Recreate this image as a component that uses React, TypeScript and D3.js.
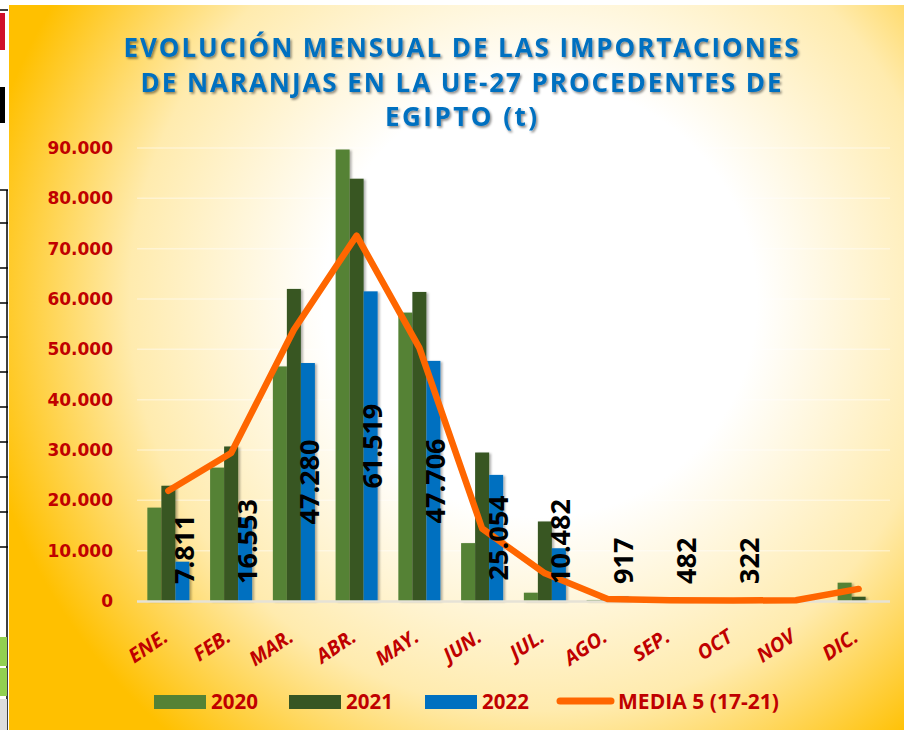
import React, { useEffect, useRef } from 'react';
import * as d3 from 'd3';

const months = ['ENE.', 'FEB.', 'MAR.', 'ABR.', 'MAY.', 'JUN.', 'JUL.', 'AGO.', 'SEP.', 'OCT', 'NOV', 'DIC.'];
const seriesNames = ['2020', '2021', '2022'];
const values2020 = [18550, 26500, 46600, 89700, 57300, 11500, 1650, 200, 0, 0, 0, 3640];
const values2021 = [22900, 30700, 62000, 83900, 61400, 29500, 15800, 600, 100, 50, 0, 850];
const values2022: (number | null)[] = [7811, 16553, 47280, 61519, 47706, 25054, 10482, 917, 482, 322, null, null];
const media5 = [21900, 29400, 53900, 72600, 50300, 14400, 5500, 400, 150, 100, 150, 2400];
const lineName = 'MEDIA 5 (17-21)';
const yTicks = [0, 10000, 20000, 30000, 40000, 50000, 60000, 70000, 80000, 90000];
const titleLines = [
  'EVOLUCIÓN MENSUAL DE LAS IMPORTACIONES',
  'DE NARANJAS EN LA UE-27 PROCEDENTES DE',
  'EGIPTO (t)',
];
const seriesColors = ['#548235', '#375623', '#0070C0'];
const lineColor = '#FF6600';
const labelRed = '#C00000';

const fmt = d3.formatLocale({ decimal: ',', thousands: '.', grouping: [3], currency: ['', '€'] }).format(',');

export default function App() {
  const ref = useRef<SVGSVGElement>(null);

  useEffect(() => {
    const svg = d3.select(ref.current);
    svg.selectAll('*').remove();
    const W = 904, H = 730;
    const defs = svg.append('defs');
    const grad = defs.append('radialGradient').attr('id', 'bg').attr('gradientUnits', 'userSpaceOnUse')
      .attr('cx', 540).attr('cy', 300).attr('r', 570);
    [[0, '#FFFFFF'], [0.38, '#FFFFFF'], [0.72, '#FFEBAE'], [1, '#FFC000']].forEach(([o, c]) =>
      grad.append('stop').attr('offset', o as number).attr('stop-color', c as string));
    const sh = defs.append('filter').attr('id', 'tshadow').attr('x', '-10%').attr('y', '-30%').attr('width', '120%').attr('height', '160%');
    sh.append('feDropShadow').attr('dx', 1.5).attr('dy', 1.8).attr('stdDeviation', 1).attr('flood-color', '#000').attr('flood-opacity', 0.45);
    const bs = defs.append('filter').attr('id', 'bshadow').attr('x', '-30%').attr('y', '-5%').attr('width', '160%').attr('height', '110%');
    bs.append('feDropShadow').attr('dx', 2).attr('dy', 1).attr('stdDeviation', 1.2).attr('flood-color', '#000').attr('flood-opacity', 0.3);

    // page artefacts at left edge
    svg.append('rect').attr('x', 0).attr('y', 0).attr('width', W).attr('height', H).attr('fill', '#fff');
    svg.append('rect').attr('x', 0).attr('y', 13).attr('width', 5).attr('height', 37).attr('fill', '#D0102A');
    svg.append('rect').attr('x', 0).attr('y', 87).attr('width', 5).attr('height', 36).attr('fill', '#000');
    svg.append('line').attr('x1', 0).attr('x2', 8).attr('y1', 10).attr('y2', 10).attr('stroke', '#000').attr('stroke-width', 1.5);
    svg.append('line').attr('x1', 7).attr('x2', 7).attr('y1', 190).attr('y2', 730).attr('stroke', '#000').attr('stroke-width', 1.5);
    [190, 223, 268, 303, 337, 372, 407, 442, 477, 512, 547].forEach(yy =>
      svg.append('line').attr('x1', 0).attr('x2', 8).attr('y1', yy).attr('y2', yy).attr('stroke', '#000').attr('stroke-width', 1.5));
    svg.append('rect').attr('x', 0).attr('y', 637).attr('width', 7).attr('height', 29).attr('fill', '#92D050');
    svg.append('rect').attr('x', 0).attr('y', 668).attr('width', 7).attr('height', 28).attr('fill', '#92D050');
    svg.append('rect').attr('x', 0).attr('y', 699).attr('width', 7).attr('height', 31).attr('fill', '#ddd');

    // chart background
    svg.append('rect').attr('x', 9).attr('y', 5).attr('width', W - 9).attr('height', H - 5).attr('fill', 'url(#bg)');

    const x0 = d3.scaleBand<string>().domain(months).range([137, 890]).paddingInner(0.33).paddingOuter(0.165);
    const x1 = d3.scaleBand<string>().domain(seriesNames).range([0, x0.bandwidth()]);
    const y = d3.scaleLinear().domain([0, 90000]).range([601, 148]);

    // grid
    svg.append('g').selectAll('line').data(yTicks.slice(1)).join('line')
      .attr('x1', 137).attr('x2', 890).attr('y1', d => y(d)).attr('y2', d => y(d))
      .attr('stroke', '#FFFFFF').attr('stroke-opacity', 0.4).attr('stroke-width', 1.5);

    // y labels
    svg.append('g').selectAll('text').data(yTicks).join('text')
      .attr('x', 113).attr('y', d => y(d)).attr('dy', '0.36em').attr('text-anchor', 'end')
      .attr('font-family', 'DejaVu Sans').attr('font-weight', 'bold').attr('font-size', 17).attr('fill', labelRed)
      .text(d => fmt(d));

    // bars
    const allSeries = [values2020, values2021, values2022];
    const bars = svg.append('g').attr('filter', 'url(#bshadow)');
    allSeries.forEach((vals, si) => {
      bars.append('g').selectAll('rect').data(vals.map((v, i) => ({ m: months[i], v })).filter(d => d.v != null && d.v > 0))
        .join('rect')
        .attr('x', d => (x0(d.m) as number) + (x1(seriesNames[si]) as number))
        .attr('width', x1.bandwidth())
        .attr('y', d => y(d.v as number)).attr('height', d => 601 - y(d.v as number))
        .attr('fill', seriesColors[si]);
    });

    // axis line
    svg.append('line').attr('x1', 137).attr('x2', 890).attr('y1', 601.5).attr('y2', 601.5)
      .attr('stroke', '#E6E2D6').attr('stroke-width', 2.5);

    // line
    const line = d3.line<number>().x((_, i) => (x0(months[i]) as number) + x0.bandwidth() / 2).y(d => y(d));
    svg.append('path').attr('d', line(media5) as string).attr('fill', 'none').attr('stroke', lineColor)
      .attr('stroke-width', 6.5).attr('stroke-linecap', 'round').attr('stroke-linejoin', 'round');

    // data labels of 2022
    const lg = svg.append('g');
    values2022.forEach((v, i) => {
      if (v == null) return;
      const cx = (x0(months[i]) as number) + (x1('2022') as number) + x1.bandwidth() / 2 + 1;
      const t = lg.append('text').attr('font-family', 'Open Sans').attr('font-weight', 'bold').attr('font-size', 27)
        .attr('fill', '#000').attr('text-anchor', 'middle').attr('dominant-baseline', 'central').text(fmt(v));
      const len = (t.node() as SVGTextElement).getComputedTextLength();
      const barCenter = (601 + y(v)) / 2;
      const cy = Math.min(barCenter, 584 - len / 2);
      t.attr('transform', `translate(${cx},${cy}) rotate(-90)`);
    });

    // x labels
    svg.append('g').selectAll('text').data(months).join('text')
      .attr('transform', d => `translate(${(x0(d) as number) + x0.bandwidth() / 2 + 1},640) rotate(-34)`)
      .attr('text-anchor', 'end').attr('font-family', 'Open Sans').attr('font-weight', 'bold').attr('font-style', 'italic')
      .attr('font-size', 20).attr('fill', labelRed).text(d => d);

    // title
    const tw = [675, 641, 152];
    const tb = [57, 92, 126];
    titleLines.forEach((tl, i) => {
      svg.append('text').attr('x', 461).attr('y', tb[i]).attr('text-anchor', 'middle')
        .attr('font-family', 'Open Sans').attr('font-weight', 'bold').attr('font-size', 26).attr('fill', '#0070C0')
        .attr('textLength', tw[i]).attr('lengthAdjust', 'spacing').attr('filter', 'url(#tshadow)').text(tl);
    });

    // legend
    const leg = svg.append('g');
    const legX = [154, 289, 425];
    seriesNames.forEach((s, i) => {
      leg.append('rect').attr('x', legX[i]).attr('y', 695).attr('width', 52).attr('height', 14).attr('fill', seriesColors[i]);
      leg.append('text').attr('x', legX[i] + 57).attr('y', 709).attr('font-family', 'Open Sans').attr('font-weight', 'bold')
        .attr('font-size', 20.5).attr('fill', labelRed).text(s);
    });
    leg.append('line').attr('x1', 560).attr('x2', 611).attr('y1', 701).attr('y2', 701).attr('stroke', lineColor)
      .attr('stroke-width', 7).attr('stroke-linecap', 'round');
    leg.append('text').attr('x', 618).attr('y', 709).attr('font-family', 'Open Sans').attr('font-weight', 'bold')
      .attr('font-size', 20.5).attr('fill', labelRed).attr('textLength', 161).attr('lengthAdjust', 'spacingAndGlyphs').text(lineName);
  }, []);

  return <svg ref={ref} width={904} height={730} style={{ position: 'fixed', left: 0, top: 0, display: 'block' }} />;
}
